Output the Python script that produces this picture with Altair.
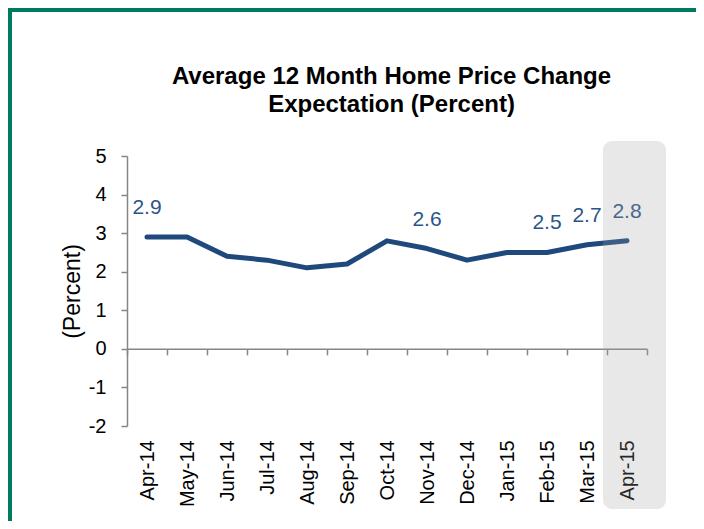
import altair as alt
import pandas as pd

months = ["Apr-14", "May-14", "Jun-14", "Jul-14", "Aug-14", "Sep-14", "Oct-14",
          "Nov-14", "Dec-14", "Jan-15", "Feb-15", "Mar-15", "Apr-15"]
values = [2.9, 2.9, 2.4, 2.3, 2.1, 2.2, 2.8, 2.6, 2.3, 2.5, 2.5, 2.7, 2.8]
labeled = ["Apr-14", "Nov-14", "Feb-15", "Mar-15", "Apr-15"]
highlight = ["Apr-15"]
y_ticks = [-2, -1, 0, 1, 2, 3, 4, 5]
title_lines = ["Average 12 Month Home Price Change", "Expectation (Percent)"]

df = pd.DataFrame({"Month": months, "Value": values})
df["Label"] = [f"{v:.1f}" if m in labeled else "" for m, v in zip(months, values)]
hl = pd.DataFrame({"Month": highlight})

FONT = "Liberation Sans"
LINE = "#1F497D"
AXIS = "#868686"

x_enc = alt.X("Month:N", sort=months,
              scale=alt.Scale(type="band", paddingInner=0, paddingOuter=0),
              axis=alt.Axis(title=None, labelAngle=-90, labelFontSize=20, labelColor="black",
                            labelFont=FONT, labelPadding=85, domainColor=AXIS, domainWidth=1.5,
                            tickColor=AXIS, tickWidth=1.5, tickSize=6, tickBand="extent",
                            offset=-77.14, grid=False, labelAlign="right", labelBaseline="middle",
                            labelOverlap=False))
y_enc = alt.Y("Value:Q", scale=alt.Scale(domain=[-2, 5], nice=False, zero=False),
              axis=alt.Axis(title="(Percent)", values=y_ticks, labelExpr="'' + datum.value",
                            grid=False, labelOverlap=False,
                            labelFontSize=20, labelColor="black", labelFont=FONT, labelPadding=15,
                            domainColor=AXIS, domainWidth=1.5, tickColor=AXIS, tickWidth=1.5,
                            tickSize=6, titleFont=FONT, titleFontSize=23, titleFontWeight="normal",
                            titleColor="black", titlePadding=4))

base = alt.Chart(df)

line = base.mark_line(color=LINE, strokeWidth=5, strokeCap="round", strokeJoin="round").encode(
    x=x_enc, y=y_enc)

labels = base.mark_text(color="#2B5589", fontSize=21, font=FONT, dy=-29).encode(
    x=x_enc, y=y_enc, text="Label:N")

shade = alt.Chart(hl).mark_rect(color="#A0A0A0", opacity=0.24, cornerRadius=9,
                                width=63, xOffset=7.5).encode(
    x=alt.X("Month:N", sort=months), y=alt.value(-15), y2=alt.value(353))

one = alt.Data(values=[{}])
title = alt.Chart(one).mark_text(text=title_lines, font=FONT, fontSize=24, fontWeight="bold",
                                 color="black", align="center", baseline="alphabetic",
                                 lineHeight=28).encode(
    x=alt.value(264.5), y=alt.value(-72))

frame_left = alt.Chart(one).mark_rect(color="#007A5E").encode(
    x=alt.value(-119), x2=alt.value(-115), y=alt.value(-148), y2=alt.value(370))
frame_top = alt.Chart(one).mark_rect(color="#007A5E").encode(
    x=alt.value(-119), x2=alt.value(580), y=alt.value(-148), y2=alt.value(-144))

chart = alt.layer(line, labels, shade, title, frame_left, frame_top).properties(
    width=520, height=270,
    padding={"left": 119, "top": 148, "right": 49, "bottom": 95},
    autosize=alt.AutoSizeParams(type="none"),
).configure_view(stroke=None)

chart.save("out.html", embed_options={"renderer": "svg", "actions": False})
